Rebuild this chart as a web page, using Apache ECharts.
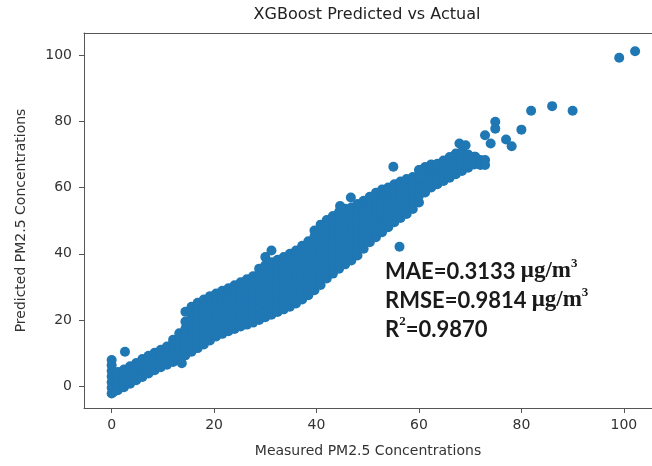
<!DOCTYPE html>
<html>
<head>
<meta charset="utf-8">
<script src="https://cdn.jsdelivr.net/npm/echarts@6/dist/echarts.min.js"></script>
<style>
  html, body { margin: 0; padding: 0; background: #fff; }
  #chart { width: 652px; height: 466px; }
</style>
</head>
<body>
<div id="chart"></div>
<script>
// main band: each column x has a list of predicted values
const bandX = [
  0, 0.3, 1.2, 2.4, 3.6, 4.8, 6.0, 7.2, 8.4, 9.6, 10.8, 12.0, 13.2, 14.4, 15.6,
  16.8, 18.0, 19.2, 20.4, 21.6, 22.8, 24.0, 25.2, 26.4, 27.6, 28.8, 30.0, 31.2,
  32.4, 33.6, 34.8, 36.0, 37.2, 38.4, 39.6, 40.8, 42.0, 43.2, 44.4, 45.6, 46.8,
  48.0, 49.2, 50.4, 51.6, 52.8, 54.0, 55.2, 56.4, 57.6, 58.8, 60.0, 61.2, 62.4,
  63.6, 64.8, 66.0, 67.2, 68.4, 69.6, 70.8, 72.0
];
const bandY = [
  [-2.2, -0.5, 1.2, 2.9, 4.6, 6.3, 7.9],
  [-1.8, 0.1, 2.0, 3.8],
  [-1.2, 0.8, 2.7, 4.3],
  [-0.3, 1.6, 3.5, 5.0],
  [0.7, 2.6, 4.5, 6.0],
  [1.8, 3.6, 5.4, 7.0],
  [2.8, 4.6, 6.4, 8.2],
  [3.8, 5.6, 7.5, 9.2],
  [4.8, 6.6, 8.5, 10.1],
  [5.7, 7.6, 9.5, 11.0],
  [6.5, 8.5, 10.5, 12.0],
  [7.3, 9.3, 11.3, 13.0, 14.0],
  [8.2, 10.2, 12.2, 14.2, 16.0],
  [9.3, 11.3, 13.3, 15.3, 17.3, 19.5, 22.5],
  [10.4, 12.4, 14.4, 16.4, 18.4, 20.4, 22.4, 24.0],
  [11.5, 13.5, 15.5, 17.5, 19.5, 21.5, 23.5, 25.2],
  [12.6, 14.6, 16.6, 18.6, 20.6, 22.6, 24.6, 26.2],
  [13.8, 15.8, 17.8, 19.8, 21.8, 23.8, 25.8, 27.2],
  [15.0, 17.0, 19.0, 21.0, 23.0, 25.0, 27.0, 28.0],
  [15.8, 17.8, 19.8, 21.8, 23.8, 25.8, 27.8, 28.8],
  [16.6, 18.6, 20.6, 22.6, 24.6, 26.6, 28.6, 29.6],
  [17.3, 19.3, 21.3, 23.3, 25.3, 27.3, 29.3, 30.5],
  [18.0, 20.0, 22.0, 24.0, 26.0, 28.0, 30.0, 31.4],
  [18.6, 20.6, 22.6, 24.6, 26.6, 28.6, 30.6, 32.3],
  [19.2, 21.2, 23.2, 25.2, 27.2, 29.2, 31.2, 33.2],
  [20.0, 22.0, 24.0, 26.0, 28.0, 30.0, 32.0, 34.0, 35.5],
  [20.8, 22.8, 24.8, 26.8, 28.8, 30.8, 32.8, 34.8, 36.5, 39.0],
  [21.6, 23.6, 25.6, 27.6, 29.6, 31.6, 33.6, 35.6, 37.4, 41.0],
  [22.4, 24.4, 26.4, 28.4, 30.4, 32.4, 34.4, 36.4, 38.2],
  [23.2, 25.2, 27.2, 29.2, 31.2, 33.2, 35.2, 37.2, 39.0],
  [24.0, 26.0, 28.0, 30.0, 32.0, 34.0, 36.0, 38.0, 40.0],
  [25.0, 27.0, 29.0, 31.0, 33.0, 35.0, 37.0, 39.0, 41.0],
  [26.2, 28.2, 30.2, 32.2, 34.2, 36.2, 38.2, 40.2, 42.4],
  [27.5, 29.5, 31.5, 33.5, 35.5, 37.5, 39.5, 41.5, 43.8],
  [29.0, 31.0, 33.0, 35.0, 37.0, 39.0, 41.0, 43.0, 45.2, 47.0],
  [30.6, 32.6, 34.6, 36.6, 38.6, 40.6, 42.6, 44.6, 46.6, 48.8],
  [32.5, 34.5, 36.5, 38.5, 40.5, 42.5, 44.5, 46.5, 48.5, 50.2],
  [34.0, 36.0, 38.0, 40.0, 42.0, 44.0, 46.0, 48.0, 50.0, 51.4],
  [35.5, 37.5, 39.5, 41.5, 43.5, 45.5, 47.5, 49.5, 51.5, 52.6],
  [36.8, 38.8, 40.8, 42.8, 44.8, 46.8, 48.8, 50.8, 52.8, 53.6],
  [38.0, 40.0, 42.0, 44.0, 46.0, 48.0, 50.0, 52.0, 54.0],
  [39.5, 41.5, 43.5, 45.5, 47.5, 49.5, 51.5, 53.5, 55.0],
  [41.5, 43.5, 45.5, 47.5, 49.5, 51.5, 53.5, 55.5, 56.0],
  [43.5, 45.5, 47.5, 49.5, 51.5, 53.5, 55.5, 57.2],
  [45.0, 47.0, 49.0, 51.0, 53.0, 55.0, 57.0, 58.4],
  [46.5, 48.5, 50.5, 52.5, 54.5, 56.5, 58.5, 59.4],
  [48.0, 50.0, 52.0, 54.0, 56.0, 58.0, 60.0],
  [49.5, 51.5, 53.5, 55.5, 57.5, 59.5, 61.0],
  [50.8, 52.8, 54.8, 56.8, 58.8, 60.8, 61.8],
  [52.0, 54.0, 56.0, 58.0, 60.0, 62.0, 62.6],
  [53.5, 55.5, 57.5, 59.5, 61.5, 63.2],
  [55.5, 57.5, 59.5, 61.5, 63.5, 65.3],
  [58.5, 60.5, 62.5, 64.5, 66.2],
  [60.0, 62.0, 64.0, 66.0, 67.0],
  [61.0, 63.0, 65.0, 67.2],
  [62.0, 64.0, 66.0, 68.2],
  [63.0, 65.0, 67.0, 69.2],
  [64.0, 66.0, 68.0, 70.3],
  [65.0, 67.0, 69.0, 70.8],
  [66.0, 68.0, 70.0],
  [67.0, 69.3],
  [66.8, 68.3]
];

// scattered points away from the band
const outlierX = [2.6, 13.7, 44.6, 46.7, 55.0, 56.2, 60.2, 60.2, 67.9, 69.1, 71.0,
  72.9, 72.9, 72.9, 74.0, 74.9, 74.9, 77.0, 78.1, 80.0, 81.9, 86.0, 90.0, 99.1, 102.2];
const outlierY = [10.4, 6.9, 54.4, 57.0, 66.3, 42.1, 65.3, 62.8, 73.3, 72.8, 69.3,
  68.3, 66.8, 75.8, 73.3, 79.9, 77.8, 74.5, 72.5, 77.5, 83.2, 84.6, 83.2, 99.2, 101.2];

const xTicks = [0, 20, 40, 60, 80, 100];
const yTicks = [0, 20, 40, 60, 80, 100];

const points = [];
bandX.forEach((x, i) => bandY[i].forEach((y) => points.push([x, y])));
outlierX.forEach((x, i) => points.push([x, outlierY[i]]));

const FONT = '"DejaVu Sans", sans-serif';
const TEXT = "#333";
const SPINE = "#555";
const X_MIN = -5.4;
const X_MAX = 105.5;

const chart = echarts.init(document.getElementById("chart"), null, { renderer: "canvas" });

chart.setOption({
  animation: false,
  title: {
    text: "XGBoost Predicted vs Actual",
    left: 362,
    top: 2,
    textAlign: "center",
    textStyle: { fontFamily: FONT, fontSize: 16, fontWeight: "normal", color: "#222" },
  },
  grid: { left: 84, top: 33, right: 0, bottom: 58 },
  xAxis: [
    {
      type: "value",
      min: X_MIN,
      max: X_MAX,
      name: "Measured PM2.5 Concentrations",
      nameLocation: "middle",
      nameGap: 36,
      nameTextStyle: { fontFamily: FONT, fontSize: 14, color: TEXT },
      axisLine: { show: true, onZero: false, lineStyle: { color: SPINE } },
      splitLine: { show: false },
      axisTick: { show: true, length: 5, lineStyle: { color: SPINE }, customValues: xTicks },
      axisLabel: { fontFamily: FONT, fontSize: 14, color: TEXT, margin: 10, customValues: xTicks },
    },
    {
      // top spine only
      type: "value",
      position: "top",
      min: X_MIN,
      max: X_MAX,
      axisLine: { show: true, onZero: false, lineStyle: { color: SPINE } },
      axisTick: { show: false },
      axisLabel: { show: false },
      splitLine: { show: false },
    },
  ],
  yAxis: {
    type: "value",
    min: -6.6,
    max: 106.7,
    name: "Predicted PM2.5 Concentrations",
    nameLocation: "middle",
    nameGap: 56,
    nameTextStyle: { fontFamily: FONT, fontSize: 14, color: TEXT },
    axisLine: { show: true, onZero: false, lineStyle: { color: SPINE } },
    splitLine: { show: false },
    axisTick: { show: true, length: 5, lineStyle: { color: SPINE }, customValues: yTicks },
    axisLabel: { fontFamily: FONT, fontSize: 14, color: TEXT, margin: 12, customValues: yTicks },
  },
  graphic: [
    {
      type: "text",
      left: 385,
      top: 257,
      z: 100,
      style: {
        text: "{s|MAE=0.3133 }{u|μg/m}{p|3}\n{s|RMSE=0.9814 }{u|μg/m}{p|3}\n{s|R}{p|2}{s|=0.9870}",
        rich: {
          s: { fontFamily: "Lato, sans-serif", fontWeight: "bold", fontSize: 22, lineHeight: 29, fill: "#1a1a1a" },
          u: { fontFamily: '"Liberation Serif", serif', fontWeight: "bold", fontSize: 23, lineHeight: 29, fill: "#1a1a1a" },
          p: { fontFamily: '"Liberation Serif", serif', fontWeight: "bold", fontSize: 13, verticalAlign: "top", lineHeight: 11, fill: "#1a1a1a" },
        },
      },
    },
  ],
  series: [
    {
      type: "scatter",
      xAxisIndex: 0,
      data: points,
      symbolSize: 10,
      itemStyle: { color: "#1f77b4", opacity: 1 },
    },
  ],
});
</script>
</body>
</html>
